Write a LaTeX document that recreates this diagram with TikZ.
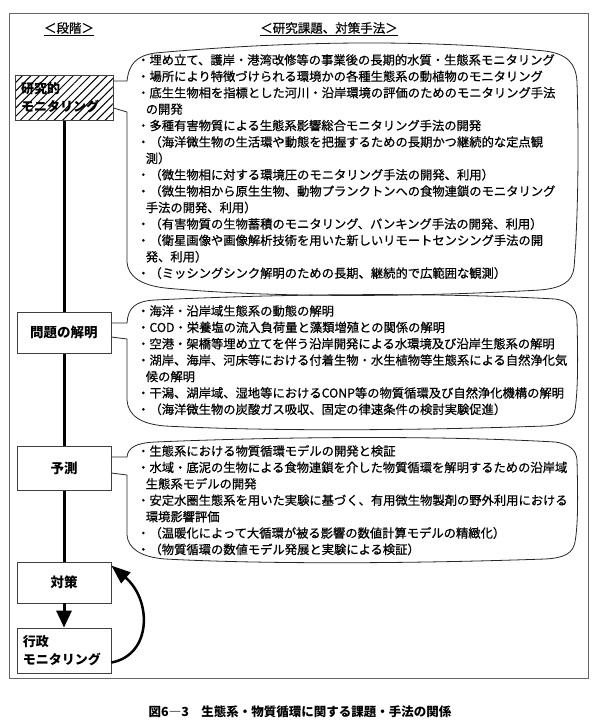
\documentclass[tikz,border=0pt]{standalone}
\usepackage{fontspec}
\setmainfont{Noto Sans CJK JP}
\newfontfamily\heavyjp[FakeBold=0.7]{Noto Sans CJK JP}
\usepackage{tikz}
\usetikzlibrary{arrows.meta, patterns.meta}

\begin{document}
\begin{tikzpicture}[x=1pt, y=-1pt,
    stage/.style={draw=black!75, line width=0.8pt, fill=white, minimum width=94pt, minimum height=41pt, inner sep=0pt, font=\fontsize{13.5}{18}\selectfont\bfseries},
    bubble/.style={draw=black!85, line width=0.8pt},
    items/.style={anchor=north west, align=left, inner sep=0pt, font=\heavyjp\fontsize{12.3}{16.4}\selectfont}]
                \useasboundingbox (0,0) rectangle (600,726);
                \draw[black!60, line width=0.9pt] (9,13) rectangle (588,678);

                \node[font=\heavyjp\fontsize{12.5}{14}\selectfont] (hstage) at (69,29) {\underline{＜段階＞}};
                \node[font=\heavyjp\fontsize{12.5}{14}\selectfont] (htask) at (329,29) {\underline{＜研究課題、対策手法＞}};

                \draw[line width=3pt] (64,120) -- (64,562);

                \node[stage, minimum width=98pt, minimum height=45pt, fill=none, pattern={Lines[angle=45, distance=6pt, line width=1pt]}, text width=86pt, align=left, font=\fontsize{13}{18}\selectfont\bfseries] (mon) at (64,97.5) {研究的\\モニタリング};
                \node[stage] (prob) at (64,332.5) {問題の解明};
                \node[stage, minimum height=44pt] (pred) at (64,468) {予測};
                \node[stage] (meas) at (64,582.5) {対策};
                \node[stage, minimum height=45pt, text width=82pt, align=left, font=\fontsize{13}{18}\selectfont\bfseries] (admin) at (64,650.5) {行政\\モニタリング};

                \draw[line width=3pt, -{Triangle[width=15pt, length=17pt]}] (meas.south) -- (admin.north);
                \draw[line width=2.5pt, -{Triangle[width=14pt, length=19pt]}] ([yshift=-12pt]admin.east) .. controls (152,655) and (152,600) .. ([yshift=-4pt]meas.north east);

                \draw[bubble] ([yshift=16.5pt]mon.east) -- (127,81)
                    .. controls (129,64) and (136,56) .. (155,53)
                    .. controls (300,40) and (430,40) .. (545,51)
                    .. controls (568,54) and (576,64) .. (577,82)
                    .. controls (579,150) and (578,220) .. (574,268)
                    .. controls (572,282) and (562,288) .. (540,290)
                    .. controls (400,298) and (260,297) .. (165,288)
                    .. controls (140,285) and (128,276) .. (127,262)
                    -- (127,112) -- ([yshift=-10.5pt]mon.east);
                \node[items] (monlist) at (137,54) {・埋め立て、護岸・港湾改修等の事業後の長期的水質・生態系モニタリング\\
                    ・場所により特徴づけられる環境かの各種生態系の動植物のモニタリング\\
                    ・底生生物相を指標とした河川・沿岸環境の評価のためのモニタリング手法\\
                    \hspace*{0.7em}の開発\\
                    ・多種有害物質による生態系影響総合モニタリング手法の開発\\
                    ・（海洋微生物の生活環や動態を把握するための長期かつ継続的な定点観\\
                    \hspace*{0.7em}測）\\
                    ・（微生物相に対する環境圧のモニタリング手法の開発、利用）\\
                    ・（微生物相から原生生物、動物プランクトンへの食物連鎖のモニタリング\\
                    \hspace*{0.7em}手法の開発、利用）\\
                    ・（有害物質の生物蓄積のモニタリング、バンキング手法の開発、利用）\\
                    ・（衛星画像や画像解析技術を用いた新しいリモートセンシング手法の開\\
                    \hspace*{0.7em}発、利用）\\
                    ・（ミッシングシンク解明のための長期、継続的で広範囲な観測）};

                \draw[bubble] ([yshift=9.5pt]prob.east) -- (127,323)
                    .. controls (128,308) and (135,301) .. (155,300)
                    .. controls (300,293) and (450,293) .. (555,299)
                    .. controls (570,301) and (576,308) .. (577,320)
                    .. controls (578,360) and (578,390) .. (575,410)
                    .. controls (573,420) and (565,425) .. (545,426)
                    .. controls (400,431) and (260,431) .. (165,426)
                    .. controls (140,424) and (128,415) .. (127,400)
                    -- (127,339) -- ([yshift=-4.5pt]prob.east);
                \node[items] (problist) at (137,305) {・海洋・沿岸域生態系の動態の解明\\
                    ・COD・栄養塩の流入負荷量と藻類増殖との関係の解明\\
                    ・空港・架橋等埋め立てを伴う沿岸開発による水環境及び沿岸生態系の解明\\
                    ・湖岸、海岸、河床等における付着生物・水生植物等生態系による自然浄化気\\
                    \hspace*{0.7em}候の解明\\
                    ・干潟、湖岸域、湿地等におけるCONP等の物質循環及び自然浄化機構の解明\\
                    ・（海洋微生物の炭酸ガス吸収、固定の律速条件の検討実験促進）};

                \draw[bubble] ([yshift=11pt]pred.east) -- (127,457)
                    .. controls (128,448) and (135,443) .. (155,442)
                    .. controls (300,436) and (450,436) .. (555,442)
                    .. controls (570,444) and (576,450) .. (577,460)
                    .. controls (578,500) and (578,525) .. (575,542)
                    .. controls (573,553) and (565,558) .. (545,559)
                    .. controls (400,564) and (260,564) .. (165,559)
                    .. controls (140,557) and (128,548) .. (127,535)
                    -- (127,475) -- ([yshift=-5pt]pred.east);
                \node[items] (predlist) at (137,445) {・生態系における物質循環モデルの開発と検証\\
                    ・水域・底泥の生物による食物連鎖を介した物質循環を解明するための沿岸域\\
                    \hspace*{0.7em}生態系モデルの開発\\
                    ・安定水圏生態系を用いた実験に基づく、有用微生物製剤の野外利用における\\
                    \hspace*{0.7em}環境影響評価\\
                    ・（温暖化によって大循環が被る影響の数値計算モデルの精緻化）\\
                    ・（物質循環の数値モデル発展と実験による検証）};

                \node[font=\fontsize{12.5}{14}\selectfont\bfseries] (caption) at (300,712) {図6―3\quad 生態系・物質循環に関する課題・手法の関係};
\end{tikzpicture}
\end{document}
